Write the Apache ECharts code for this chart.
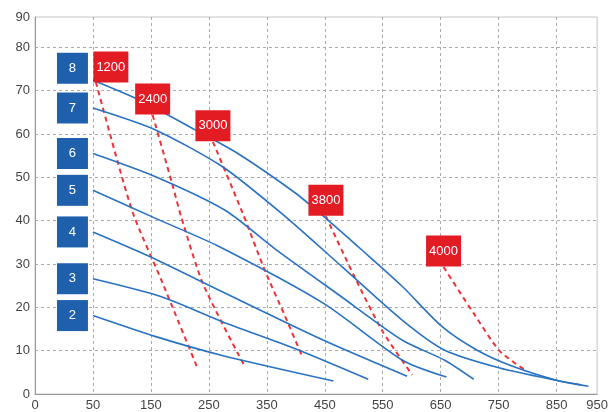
<!DOCTYPE html>
<html>
<head>
<meta charset="utf-8">
<script src="https://cdn.jsdelivr.net/npm/echarts@6.0.0/dist/echarts.min.js"></script>
<style>
  html, body { margin: 0; padding: 0; background: #fff; }
  #chart { width: 611px; height: 412px; }
</style>
</head>
<body>
<div id="chart"></div>
<script>
// axis tick labels (first tick sits at min, last at max)
var xLabels = ['0', '50', '150', '250', '350', '450', '550', '650', '750', '850', '950'];
var yLabels = ['0', '10', '20', '30', '40', '50', '60', '70', '80', '90'];

// blue curves, [x, y]
var curveNames = ['8', '7', '6', '5', '4', '3', '2'];
var curve8 = [[50, 72.4], [129, 67.9], [226, 61.0], [300, 55.5], [398, 46.5], [448, 41.0],
  [516, 33.0], [584, 24.8], [652, 15.6], [713, 10.1], [774, 6.4], [855, 3.0], [905, 1.8]];
var curve7 = [[50, 66.0], [157, 61.0], [273, 52.5], [377, 41.5], [482, 29.1], [584, 17.0], [657, 10.1],
  [752, 6.0], [855, 3.0], [892, 2.1]];
var curve6 = [[50, 55.5], [157, 50.2], [278, 42.4], [364, 33.5], [474, 22.9], [584, 12.4], [657, 7.8], [707, 3.4]];
var curve5 = [[50, 47.0], [162, 40.3], [265, 34.2], [448, 20.9], [584, 7.8], [660, 3.9]];
var curve4 = [[50, 37.4], [145, 31.9], [273, 23.6], [448, 12.4], [592, 4.1]];
var curve3 = [[50, 26.6], [167, 22.5], [273, 16.7], [398, 10.5], [525, 3.4]];
var curve2 = [[50, 18.1], [157, 13.3], [273, 8.9], [465, 3.0]];

// red dashed lines
var speedNames = ['1200', '2400', '3000', '3800', '4000'];
var speed1200 = [[55, 72.0], [93, 53.4], [121, 41.0], [167, 26.6], [229, 6.4]];
var speed2400 = [[153, 64.4], [188, 47.9], [202, 41.0], [240, 25.4], [311, 6.6]];
var speed3000 = [[257, 58.2], [309, 41.5], [347, 28.4], [381, 18.1], [411, 8.7]];
var speed3800 = [[452, 41.0], [503, 26.6], [550, 14.4], [601, 4.4]];
var speed4000 = [[655, 29.3], [707, 18.6], [752, 9.9], [796, 5.5]];

var curves = [curve8, curve7, curve6, curve5, curve4, curve3, curve2];
var speeds = [speed1200, speed2400, speed3000, speed3800, speed4000];

var BLUE = '#2a72c2';
var BLUE_BOX = '#1f60ad';
var RED = '#ee3236';
var RED_BOX = '#e31b23';

var series = [];

curves.forEach(function (data, i) {
  series.push({
    type: 'line',
    name: 'c' + curveNames[i],
    data: data,
    smooth: 0.25,
    symbol: 'none',
    lineStyle: { color: BLUE, width: 1.6 },
    z: 3,
    markPoint: {
      symbol: 'rect',
      symbolSize: [31, 31],
      symbolOffset: [-20.5, curveNames[i] === '8' ? -12 : 0],
      itemStyle: { color: BLUE_BOX },
      label: { show: true, formatter: '{b}', color: '#fff', fontSize: 13, fontFamily: 'Liberation Sans' },
      data: [{ name: curveNames[i], coord: data[0] }]
    }
  });
});

speeds.forEach(function (data, i) {
  series.push({
    type: 'line',
    name: 's' + speedNames[i],
    data: data,
    smooth: 0.25,
    symbol: 'none',
    lineStyle: { color: RED, width: 2, type: [5, 4] },
    z: 2,
    markPoint: {
      symbol: 'rect',
      symbolSize: [35, 31],
      symbolOffset: speedNames[i] === '1200' ? [15, -15] : [0, -16],
      itemStyle: { color: RED_BOX },
      label: { show: true, formatter: '{b}', color: '#fff', fontSize: 13, fontFamily: 'Liberation Sans' },
      data: [{ name: speedNames[i], coord: data[0] }]
    }
  });
});

var chart = echarts.init(document.getElementById('chart'));
chart.setOption({
  animation: false,
  grid: {
    left: 35, right: 13, top: 17, bottom: 16,
    show: true, borderColor: '#c4c4c4', borderWidth: 1
  },
  xAxis: {
    type: 'value',
    min: -50, max: 920, interval: 100,
    axisLine: { show: true, onZero: false, lineStyle: { color: '#9a9a9a' } },
    axisTick: { show: false },
    axisLabel: {
      margin: 5, color: '#444', fontSize: 13, fontFamily: 'Liberation Sans',
      formatter: function (v, idx) { return xLabels[idx]; }
    },
    splitLine: {
      show: true, showMinLine: false, showMaxLine: false,
      lineStyle: { color: '#aaa', type: [3, 3], width: 1 }
    }
  },
  yAxis: {
    type: 'value',
    min: 0, max: 87, interval: 10,
    axisLine: { show: true, onZero: false, lineStyle: { color: '#9a9a9a' } },
    axisTick: { show: false },
    axisLabel: {
      margin: 5, color: '#444', fontSize: 13, fontFamily: 'Liberation Sans',
      formatter: function (v, idx) { return yLabels[idx]; }
    },
    splitLine: {
      show: true, showMinLine: false, showMaxLine: false,
      lineStyle: { color: '#aaa', type: [3, 3], width: 1 }
    }
  },
  series: series
});
</script>
</body>
</html>
